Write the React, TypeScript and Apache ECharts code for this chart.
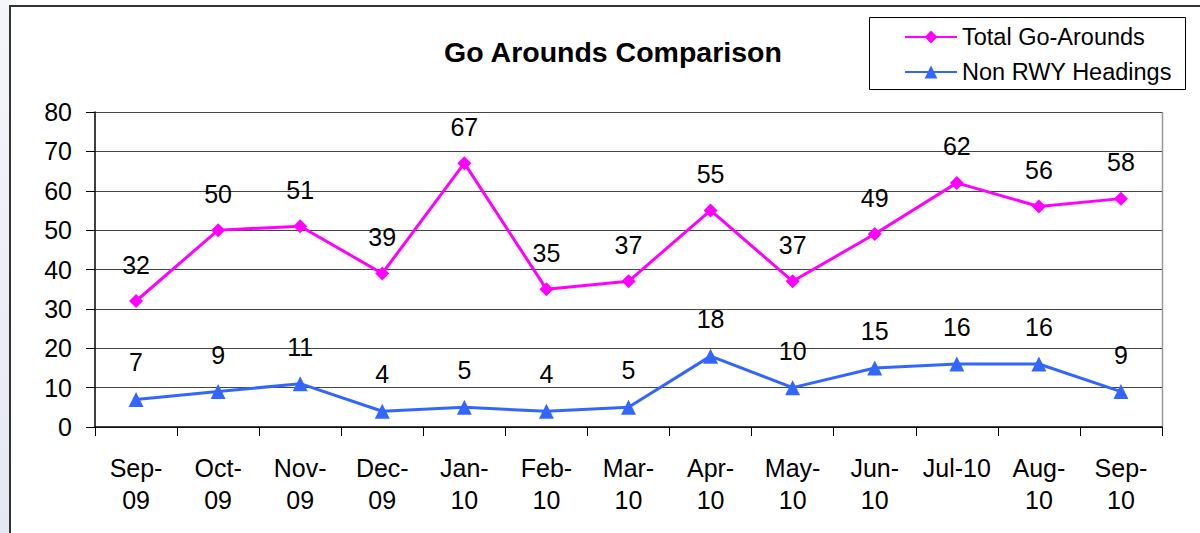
import React, { useEffect, useRef } from "react";
import * as echarts from "echarts";

const categories = ["Sep-\n09", "Oct-\n09", "Nov-\n09", "Dec-\n09", "Jan-\n10", "Feb-\n10", "Mar-\n10", "Apr-\n10", "May-\n10", "Jun-\n10", "Jul-10", "Aug-\n10", "Sep-\n10"];
const totalGoArounds = [32, 50, 51, 39, 67, 35, 37, 55, 37, 49, 62, 56, 58];
const nonRwyHeadings = [7, 9, 11, 4, 5, 4, 5, 18, 10, 15, 16, 16, 9];
const seriesNames = ["Total Go-Arounds", "Non RWY Headings"];
const chartTitle = "Go Arounds Comparison";

const FONT = "'Liberation Sans', Arial, sans-serif";

export default function App() {
  const ref = useRef<HTMLDivElement>(null);
  useEffect(() => {
    if (!ref.current) return;
    const chart = echarts.init(ref.current, null, { renderer: "svg" });
    chart.setOption({
      animation: false,
      backgroundColor: "#ffffff",
      textStyle: { fontFamily: FONT },
      graphic: [
        {
          type: "rect",
          shape: { x: 0, y: 0, width: 9, height: 533 },
          style: {
            fill: new echarts.graphic.LinearGradient(0, 0, 0, 1, [
              { offset: 0, color: "#f4f6fa" },
              { offset: 1, color: "#e4e8f2" },
            ]),
          },
          silent: true,
        },
        {
          type: "polyline",
          shape: { points: [[10, 540], [10, 6], [1210, 6]] },
          style: { stroke: "#333333", lineWidth: 2, fill: null },
          silent: true,
        },
        {
          type: "rect",
          shape: { x: 869.5, y: 17.5, width: 316, height: 72 },
          style: { fill: "#ffffff", stroke: "#000000", lineWidth: 1 },
          silent: true,
          z: 0,
        },
        {
          type: "line",
          shape: { x1: 95, y1: 112.5, x2: 1162, y2: 112.5 },
          style: { stroke: "#888888", lineWidth: 1 },
          silent: true,
        },
        {
          type: "line",
          shape: { x1: 1162.5, y1: 112, x2: 1162.5, y2: 427 },
          style: { stroke: "#999999", lineWidth: 1.5 },
          silent: true,
        },
      ],
      title: {
        text: chartTitle,
        left: 608,
        top: 32,
        textAlign: "center",
        textStyle: { fontFamily: FONT, fontSize: 28.5, fontWeight: "bold", color: "#000" },
      },
      legend: {
        orient: "vertical",
        left: 899,
        top: 20,
        itemGap: 11,
        itemWidth: 52,
        itemHeight: 16,
        data: [seriesNames[0], seriesNames[1]],
        textStyle: { fontFamily: FONT, fontSize: 23.5, lineHeight: 24, color: "#000" },
      },
      grid: { left: 95, right: 38, top: 112, bottom: 106, containLabel: false },
      xAxis: {
        type: "category",
        data: categories,
        boundaryGap: true,
        axisLine: { lineStyle: { color: "#000", width: 1.5 } },
        axisTick: { show: true, length: 9, inside: false, alignWithLabel: false, lineStyle: { color: "#000" } },
        axisLabel: {
          interval: 0,
          margin: 25,
          fontFamily: FONT,
          fontSize: 25,
          lineHeight: 32,
          color: "#000",
        },
      },
      yAxis: {
        type: "value",
        min: 0,
        max: 80,
        interval: 10,
        axisLine: { show: true, lineStyle: { color: "#000", width: 1.5 } },
        axisTick: { show: true, length: 9, lineStyle: { color: "#000" } },
        axisLabel: { margin: 23, fontFamily: FONT, fontSize: 25, color: "#000" },
        splitLine: { show: true, lineStyle: { color: "#444", width: 1 } },
      },
      series: [
        {
          name: seriesNames[0],
          type: "line",
          data: totalGoArounds,
          color: "#ff00ff",
          symbol: "diamond",
          symbolSize: 14,
          lineStyle: { width: 3, color: "#ff00ff" },
          itemStyle: { color: "#ff00ff" },
          label: {
            show: true,
            position: "top",
            distance: 17,
            fontFamily: FONT,
            fontSize: 25,
            color: "#000",
          },
          z: 3,
        },
        {
          name: seriesNames[1],
          type: "line",
          data: nonRwyHeadings,
          color: "#3366ff",
          symbol: "triangle",
          symbolSize: 15,
          lineStyle: { width: 3, color: "#3366ff" },
          itemStyle: { color: "#3366ff" },
          label: {
            show: true,
            position: "top",
            distance: 17,
            fontFamily: FONT,
            fontSize: 25,
            color: "#000",
          },
          z: 3,
        },
      ],
    });
    return () => chart.dispose();
  }, []);
  return (
    <div
      ref={ref}
      style={{ position: "fixed", left: 0, top: 0, width: 1200, height: 533 }}
    />
  );
}
